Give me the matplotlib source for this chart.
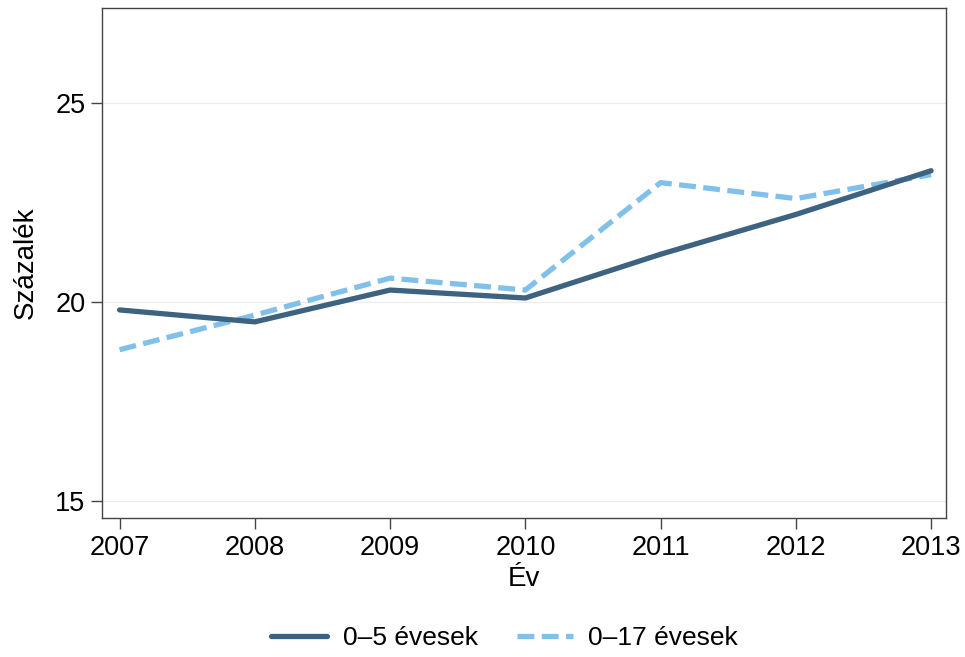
import matplotlib
matplotlib.use('Agg')
import matplotlib.pyplot as plt

plt.rcParams['font.family'] = ['Liberation Sans', 'DejaVu Sans']

years = [2007, 2008, 2009, 2010, 2011, 2012, 2013]
age_0_5 = [19.8, 19.5, 20.3, 20.1, 21.2, 22.2, 23.3]
age_0_17 = [18.8, 19.67, 20.6, 20.3, 23.0, 22.6, 23.2]
yticks = [15, 20, 25]


def main():
    fig = plt.figure(figsize=(9.65, 6.57), dpi=100)
    ax = fig.add_axes([0.1057, 0.2116, 0.8746, 0.7762])

    for y in yticks:
        ax.axhline(y, color='#ececec', lw=0.9, zorder=0)

    ax.plot(years, age_0_5, color='#3e6380', lw=3.8, solid_capstyle='round',
            label='0\u20135 évesek', zorder=3)
    ax.plot(years, age_0_17, color='#80c0ea', lw=3.8, dashes=(3.2, 1.4),
            label='0\u201317 évesek', zorder=2)

    ax.set_xlim(2006.87, 2013.11)
    ax.set_ylim(14.57, 27.39)
    ax.set_xticks(years)
    ax.set_yticks(yticks)
    ax.tick_params(labelsize=19.5, length=8, width=1, color='#444444', pad=4)
    for s in ax.spines.values():
        s.set_color('#444444')
        s.set_linewidth(1)

    ax.set_xlabel('Év', fontsize=20, labelpad=4)
    ax.set_ylabel('Százalék', fontsize=20, labelpad=12)

    fig.legend(loc='lower center', bbox_to_anchor=(0.523, -0.026), ncol=2,
               frameon=False, fontsize=19, handlelength=2.1,
               columnspacing=1.5, handletextpad=0.6)

    fig.savefig('out.png', dpi=100)


if __name__ == '__main__':

    main()
